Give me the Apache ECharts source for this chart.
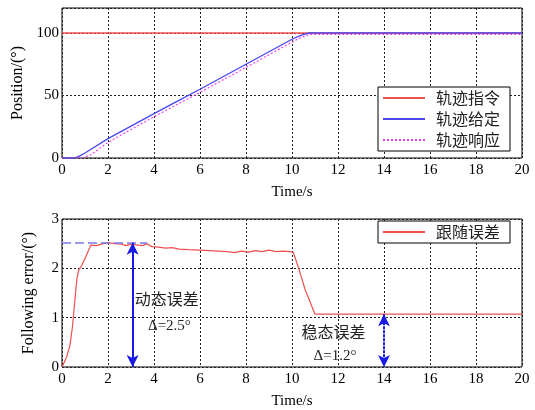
<!DOCTYPE html>
<html>
<head>
<meta charset="utf-8">
<script src="https://cdn.jsdelivr.net/npm/echarts@6/dist/echarts.min.js"></script>
<style>
  html, body { margin: 0; padding: 0; background: #fff; }
  #chart { width: 535px; height: 410px; }
</style>
</head>
<body>
<div id="chart"></div>
<script>
/* ── 데이터 ── */
const legendTop = ['轨迹指令', '轨迹给定', '轨迹响应'];
const legendBottom = ['跟随误差'];

// 轨迹指令: [t, deg]
const cmdData = [[0, 100], [20, 100]];
// 轨迹给定
const givenData = [
  [0, 0], [0.55, 0], [0.75, 1.5], [1.0, 4], [2, 15.5], [3, 25.5], [4, 35.5],
  [5, 45.3], [6, 55], [7, 65], [8, 75], [9, 85], [10, 95], [10.4, 98.3],
  [10.75, 100], [20, 100]
];
// 轨迹响应
const respData = [
  [0, 0], [0.6, 0], [0.9, 0.3], [1.25, 2.5], [2, 12.5], [3, 22.8], [4, 33],
  [5, 42.8], [6, 52.5], [7, 62.5], [8, 72.5], [9, 82.6], [10, 92.7],
  [10.4, 96.5], [10.8, 98.9], [20, 98.9]
];
// 跟随误差
const errData = [
  [0, 0], [0.06, 0], [0.2, 0.2], [0.35, 0.45], [0.45, 0.8], [0.55, 1.3],
  [0.65, 1.8], [0.73, 1.97], [0.85, 2.05], [1.0, 2.2], [1.25, 2.47],
  [1.5, 2.46], [1.7, 2.49], [2.0, 2.52], [2.3, 2.5], [2.6, 2.49], [2.8, 2.46],
  [3.0, 2.49], [3.3, 2.47], [3.5, 2.46], [3.7, 2.5], [3.9, 2.44], [4.2, 2.43],
  [4.5, 2.41], [4.8, 2.42], [5.1, 2.39], [5.5, 2.38], [6.0, 2.37], [6.4, 2.36],
  [6.8, 2.35], [7.2, 2.34], [7.5, 2.32], [7.8, 2.35], [8.1, 2.33], [8.4, 2.36],
  [8.7, 2.34], [9.0, 2.37], [9.3, 2.34], [9.6, 2.35], [9.9, 2.34], [10.05, 2.33],
  [10.27, 2.03], [10.57, 1.57], [10.86, 1.23], [11.0, 1.07], [20, 1.07]
];

// 주석 값
const dynErr = 2.52;      // 动态误差 기준선
const dynLineEnd = 3.7;   // 점선 끝 t
const dynArrowT = 3.07;
const steadyErr = 1.07;
const steadyArrowT = 14;
const notes = [
  { text: '动态误差', coord: [4.55, 1.37], cjk: true },
  { text: 'Δ=2.5°', coord: [4.67, 0.83], cjk: false },
  { text: '稳态误差', coord: [11.8, 0.71], cjk: true },
  { text: 'Δ=1.2°', coord: [11.87, 0.23], cjk: false }
];

/* ── 공통 스타일 ── */
const SERIF = "'Liberation Serif', 'Noto Sans CJK SC', serif";
const CJK = "'Noto Sans CJK SC', 'Liberation Serif', sans-serif";
const GRID_LINE = { show: true, lineStyle: { color: '#222', type: [2, 2], width: 1 } };
const LABEL = { color: '#000', fontFamily: SERIF, fontSize: 15 };

function xAxisOpt(gridIndex) {
  return {
    type: 'value', gridIndex, min: 0, max: 20, interval: 2,
    name: 'Time/s', nameLocation: 'middle', nameGap: 27,
    nameTextStyle: { color: '#000', fontFamily: SERIF, fontSize: 15 },
    axisLine: { show: false }, axisTick: { show: false },
    axisLabel: Object.assign({ margin: 5 }, LABEL),
    splitLine: GRID_LINE
  };
}

function legendOpt(names, left, top, gap) {
  return {
    data: names, orient: 'vertical', left, top,
    itemWidth: 42, itemHeight: 10, itemGap: gap,
    padding: [3, 10, 3, 4],
    itemStyle: { opacity: 0, borderWidth: 0 },
    backgroundColor: '#fff', borderColor: '#000', borderWidth: 1, borderRadius: 0,
    textStyle: { color: '#222', fontFamily: CJK, fontSize: 16, lineHeight: 16, padding: [0, 0, 0, 6] }
  };
}

const chart = echarts.init(document.getElementById('chart'), null, { renderer: 'canvas' });

chart.setOption({
  animation: false,
  backgroundColor: '#fff',
  grid: [
    { left: 62, top: 8, width: 460, height: 150, show: true, borderColor: '#000', borderWidth: 1, backgroundColor: 'transparent' },
    { left: 62, top: 219, width: 460, height: 149, show: true, borderColor: '#000', borderWidth: 1, backgroundColor: 'transparent' }
  ],
  legend: [
    legendOpt(legendTop, 378, 87, 5),
    legendOpt(legendBottom, 378, 221, 5)
  ],
  xAxis: [xAxisOpt(0), xAxisOpt(1)],
  yAxis: [
    {
      type: 'value', gridIndex: 0, min: 0, max: 120, interval: 50,
      name: 'Position/(°)', nameLocation: 'middle', nameGap: 30,
      nameTextStyle: { color: '#000', fontFamily: SERIF, fontSize: 16 },
      axisLine: { show: false }, axisTick: { show: false },
      axisLabel: Object.assign({ margin: 3, showMaxLabel: false }, LABEL),
      splitLine: GRID_LINE
    },
    {
      type: 'value', gridIndex: 1, min: 0, max: 3, interval: 1,
      name: 'Following error/(°)', nameLocation: 'middle', nameGap: 25,
      nameTextStyle: { color: '#000', fontFamily: SERIF, fontSize: 16 },
      axisLine: { show: false }, axisTick: { show: false },
      axisLabel: Object.assign({ margin: 3 }, LABEL),
      splitLine: GRID_LINE
    }
  ],
  series: [
    {
      name: '轨迹指令', type: 'line', xAxisIndex: 0, yAxisIndex: 0,
      data: cmdData, showSymbol: false, symbol: 'none',
      lineStyle: { color: '#f05050', width: 1.5 }, itemStyle: { color: '#f05050' }
    },
    {
      name: '轨迹给定', type: 'line', xAxisIndex: 0, yAxisIndex: 0,
      data: givenData, showSymbol: false, symbol: 'none',
      lineStyle: { color: '#4848f0', width: 1.3 }, itemStyle: { color: '#4848f0' }
    },
    {
      name: '轨迹响应', type: 'line', xAxisIndex: 0, yAxisIndex: 0,
      data: respData, showSymbol: false, symbol: 'none',
      lineStyle: { color: '#f040f0', width: 1.2, type: [2, 2] }, itemStyle: { color: '#f040f0' }
    },
    {
      name: '跟随误差', type: 'line', xAxisIndex: 1, yAxisIndex: 1,
      data: errData, showSymbol: false, symbol: 'none',
      lineStyle: { color: '#f05050', width: 1.2 }, itemStyle: { color: '#f05050' },
      markLine: {
        silent: true, animation: false,
        label: { show: false },
        data: [
          [
            { coord: [0, dynErr], symbol: 'none', lineStyle: { color: '#7878e8', width: 1.5, type: [9, 4] } },
            { coord: [dynLineEnd, dynErr], symbol: 'none' }
          ],
          [
            { coord: [dynArrowT, dynErr], symbol: 'arrow', symbolSize: [9, 12], lineStyle: { color: '#1a1ae6', width: 2, type: 'solid' } },
            { coord: [dynArrowT, 0], symbol: 'arrow', symbolSize: [9, 12] }
          ],
          [
            { coord: [steadyArrowT, steadyErr], symbol: 'arrow', symbolSize: [9, 12], lineStyle: { color: '#1a1ae6', width: 2, type: [3, 1] } },
            { coord: [steadyArrowT, 0], symbol: 'arrow', symbolSize: [9, 12] }
          ]
        ]
      },
      markPoint: {
        silent: true, animation: false,
        symbol: 'circle', symbolSize: 0,
        data: notes.map(n => ({
          coord: n.coord,
          label: {
            show: true, position: 'inside', formatter: n.text, color: '#222',
            fontFamily: n.cjk ? CJK : SERIF, fontSize: n.cjk ? 16 : 15
          }
        }))
      }
    }
  ]
});
</script>
</body>
</html>
